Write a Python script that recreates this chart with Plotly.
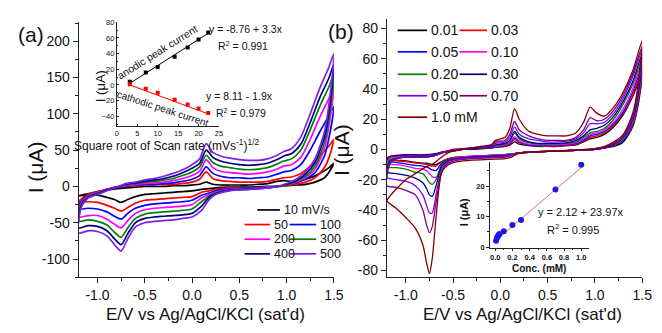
import plotly.graph_objects as go

W, H = 662, 333

# ---------------- Panel (a): CVs at different scan rates ----------------
E_UP_A = [-1.2, -1.17, -1.1, -1.0, -0.9, -0.8, -0.7, -0.6, -0.5, -0.4, -0.3, -0.2, -0.1, 0.0, 0.08,
          0.15, 0.22, 0.3, 0.4, 0.5, 0.6, 0.7, 0.8, 0.9, 0.97, 1.05, 1.15, 1.25, 1.35, 1.45, 1.5]
E_DN_A = [1.45, 1.4, 1.3, 1.2, 1.1, 1.0, 0.9, 0.8, 0.6, 0.4, 0.25, 0.18, 0.1, 0.0, -0.1, -0.2,
          -0.3, -0.4, -0.5, -0.6, -0.68, -0.75, -0.82, -0.9, -1.0, -1.1, -1.2]

A10_UP = [-13, -12, -10, -7, -5, -3, -2, -1, 0, 0, 0, 1, 1, 2, 3, 6, 3, 2, 2, 2, 2, 3, 4, 7, 8, 7, 8, 12, 18, 26, 32]
A10_DN = [20, 12, 6, 3, 2, 1, 0, 0, -1, -1, -2, -3, -4, -6, -7, -8, -9, -10, -11, -14, -18, -22, -18, -15, -12, -12, -13]
A50_UP = [-22, -17, -11, -7, -4, -1, 0, 1, 2, 2, 3, 3, 4, 6, 10, 20, 11, 8, 7, 6, 6, 6, 7, 10, 12, 13, 18, 28, 42, 56, 65]
A50_DN = [40, 26, 12, 6, 3, 1, 0, -1, -2, -2, -4, -6, -8, -14, -15, -16, -17, -18, -19, -23, -29, -34, -30, -26, -22, -21, -22]
A100_UP = [-31, -20, -12, -8, -4, -1, 0, 2, 3, 3, 4, 5, 7, 10, 15, 27, 18, 14, 12, 12, 11, 12, 13, 17, 20, 22, 30, 50, 75, 98, 110]
A100_DN = [68, 42, 19, 10, 5, 2, 0, -1, -2, -3, -6, -9, -12, -19, -21, -22, -23, -24, -26, -30, -37, -45, -41, -35, -31, -30, -31]
A200_UP = [-42, -22, -13, -8, -4, -1, 1, 3, 4, 5, 6, 8, 11, 15, 21, 37, 26, 21, 19, 18, 17, 18, 20, 24, 28, 30, 40, 65, 95, 122, 138]
A200_DN = [85, 52, 24, 12, 6, 2, 0, -1, -3, -4, -8, -11, -16, -25, -27, -28, -29, -30, -32, -37, -47, -57, -52, -45, -40, -40, -42]
A300_UP = [-48, -24, -14, -9, -5, -1, 2, 4, 6, 7, 9, 11, 15, 20, 27, 43, 33, 28, 26, 24, 23, 24, 26, 31, 35, 38, 50, 78, 110, 138, 155]
A300_DN = [95, 60, 28, 14, 7, 2, 0, -2, -3, -5, -9, -13, -21, -31, -33, -34, -35, -36, -38, -44, -57, -70, -63, -53, -48, -46, -48]
A400_UP = [-57, -26, -15, -10, -5, -1, 3, 5, 7, 9, 11, 14, 19, 25, 32, 50, 40, 35, 32, 30, 29, 30, 32, 37, 42, 45, 58, 88, 122, 150, 168]
A400_DN = [105, 68, 33, 17, 8, 3, 0, -2, -4, -5, -10, -15, -27, -37, -39, -40, -41, -42, -44, -50, -65, -80, -72, -61, -55, -54, -57]
A500_UP = [-64, -28, -16, -11, -6, -1, 4, 6, 9, 11, 14, 18, 23, 30, 38, 59, 47, 42, 39, 37, 36, 36, 38, 43, 48, 52, 68, 100, 135, 165, 183]
A500_DN = [115, 75, 38, 20, 10, 4, 0, -2, -4, -6, -11, -18, -33, -42, -44, -46, -47, -48, -50, -56, -72, -89, -80, -68, -62, -61, -64]

A_LABELS = ["10 mV/s", "50", "100", "200", "300", "400", "500"]
A_COLORS = ["#000000", "#FF0000", "#0000FF", "#FF00FF", "#008000", "#000080", "#8020F0"]

# inset (a): peak currents vs square root of scan rate
SQRT_RATE = [3.16, 7.07, 10.0, 14.14, 17.32, 20.0, 22.36]
ANODIC_PEAK = [4, 16, 23, 36, 48, 58, 67]
CATHODIC_PEAK = [1, -5, -10, -19, -25, -30, -36]
FIT_A_X = [3.16, 22.36]
ANODIC_FIT = [2, 66]
CATHODIC_FIT = [0, -37]

# ---------------- Panel (b): CVs at different concentrations ----------------
E_UP_B = [-1.2, -1.17, -1.1, -1.0, -0.9, -0.8, -0.7, -0.6, -0.5, -0.4, -0.3, -0.2, -0.1, -0.05, 0.05, 0.1,
          0.15, 0.2, 0.3, 0.4, 0.5, 0.6, 0.7, 0.8, 0.88, 0.95, 1.02, 1.1, 1.2, 1.3, 1.4, 1.5]
E_DN_B = [1.45, 1.4, 1.3, 1.2, 1.1, 1.0, 0.8, 0.6, 0.4, 0.25, 0.18, 0.12, 0.05, -0.1, -0.3, -0.45,
          -0.55, -0.62, -0.68, -0.72, -0.75, -0.78, -0.82, -0.9, -1.0, -1.1, -1.2]

B001_UP = [-6, -4.5, -4, -3.5, -3.5, -3.5, -3, -1.5, -1, 0, 0, 0.5, 1, 1.5, 2, 3, 5, 3.5, 2.5, 2, 2, 2, 2.5, 3, 5, 7, 8, 10, 15, 23, 35, 50]
B001_DN = [27, 15, 5, 2, 1, 0, -0.5, -1, -1.5, -2, -2.5, -3, -3.5, -4, -4.5, -5, -6, -8, -10, -10, -9.5, -9, -9, -8.5, -7.5, -7, -6]
B003_UP = [-7, -5, -4.5, -4, -4, -4, -3.5, -1.5, -1, 0, 0.5, 0.5, 1, 1.5, 2, 3.5, 6.5, 4.5, 3, 2.5, 2, 2, 2.5, 3.5, 5.5, 8, 9, 11, 16, 24, 36, 52]
B003_DN = [28, 16, 6, 2.5, 1, 0, -0.5, -1, -1.5, -2, -2.5, -3, -3.5, -4, -4.5, -5, -6, -8, -11, -11, -10.5, -10, -9.5, -9, -8, -7.5, -7]
B005_UP = [-8, -5.5, -4.5, -4, -4, -4, -3.5, -1.5, -1, 0, 0.5, 1, 1, 1.5, 2.5, 4, 7.5, 5, 3, 2.5, 2.5, 2.5, 3, 4, 6, 9, 10, 12, 17, 25, 38, 55]
B005_DN = [29, 17, 6, 2.5, 1, 0, -0.5, -1, -1.5, -2, -2.5, -3, -3.5, -4, -4.5, -5.5, -6.5, -9, -14, -13.5, -12.5, -11.5, -11, -10.5, -9.5, -8.5, -8]
B010_UP = [-9.6, -6, -5, -4.5, -4.5, -4.5, -4, -2, -1, 0, 0.5, 1, 1.5, 2, 3, 4.5, 8.5, 5.5, 3.5, 3, 3, 3, 3.5, 4.5, 7, 10, 11, 13, 18, 27, 40, 58]
B010_DN = [31, 18, 7, 3, 1, 0, -0.5, -1, -1.5, -2, -2.5, -3, -3.5, -4, -4.5, -5.5, -7, -11, -18.5, -18, -16, -14, -13, -12.5, -11, -10, -9.6]
B020_UP = [-11.5, -7, -5.5, -5, -5, -5, -4, -2, -1, 0, 0.5, 1, 1.5, 2.5, 3.5, 5.5, 11, 7, 4.5, 3.5, 3.5, 3.5, 4, 5, 8, 11, 12, 14, 20, 30, 43, 60]
B020_DN = [32, 19, 7, 3, 1, 0, -0.5, -1, -1.5, -2, -2.5, -3, -4, -4.5, -5, -6, -7, -10, -20, -23, -22, -19, -16, -15, -13, -12, -11.5]
B030_UP = [-15, -8, -6, -5, -5, -5, -4, -2, -0.5, 0, 0.5, 1, 1.5, 3, 4, 6, 12, 8, 5, 4, 4, 4, 4.5, 6, 9, 13, 14, 16, 22, 32, 45, 63]
B030_DN = [34, 20, 8, 3.5, 1, 0, -0.5, -1, -1.5, -2, -2.5, -3.5, -4, -4.5, -5, -6, -7.5, -11, -24, -31, -30, -26, -22, -19, -17, -16, -15]
B050_UP = [-18.5, -9, -6, -5, -5, -5, -4, -2, 0, 0.5, 1, 1.5, 2, 4, 5, 8, 15, 10, 7, 6, 5, 5, 5.5, 7, 11, 17, 17, 18, 24, 34, 48, 66]
B050_DN = [36, 21, 8, 4, 1.5, 0.5, -0.5, -1, -1.5, -2, -2.5, -3.5, -4.5, -5, -5.5, -6.5, -8, -13, -30, -42, -42, -37, -30, -24, -21, -20, -18.5]
B070_UP = [-24, -10, -6, -5, -5, -5, -4, -2, 0, 0.5, 1, 2, 2.5, 5, 6, 10, 18.5, 13, 9, 7, 6, 6, 6, 8, 13, 21, 19, 20, 26, 36, 50, 68]
B070_DN = [38, 22, 9, 4, 1.5, 0.5, -0.5, -1, -1.5, -2, -2.5, -4, -5, -5.5, -6, -7, -9, -15, -35, -51, -55, -50, -40, -30, -27, -25, -24]
B100_UP = [-34, -31, -26, -20, -16, -12, -9, -4, -1, 0, 1, 2, 3, 6, 8, 14, 27, 20, 12, 10, 9, 9, 9, 11, 18, 28, 24, 22, 28, 38, 52, 72]
B100_DN = [40, 24, 10, 5, 2, 0.5, -0.5, -1, -1.5, -2, -3, -5, -6, -6.5, -7, -8, -10, -15, -45, -72, -82, -75, -63, -52, -45, -39, -34]

B_LABELS = ["0.01", "0.03", "0.05", "0.10", "0.20", "0.30", "0.50", "0.70", "1.0 mM"]
B_COLORS = ["#000000", "#FF0000", "#0000FF", "#FF00FF", "#008000", "#000080", "#8000FF", "#800080", "#800000"]

# inset (b): peak current vs concentration
CONC = [0.01, 0.02, 0.03, 0.04, 0.05, 0.10, 0.20, 0.30, 0.70, 1.0]
PEAK_B = [2.1, 3.0, 3.5, 4.0, 4.3, 5.2, 7.3, 8.9, 18.9, 27.0]
FIT_B_X = [0.0, 1.0]
FIT_B_Y = [2.1, 26.1]

# ---------------- helpers ----------------
FONT = "Liberation Sans, Arial, sans-serif"


def P(x):
    return x / W


def Q(y):
    return 1 - y / H


fig = go.Figure()

A_UPS = [A10_UP, A50_UP, A100_UP, A200_UP, A300_UP, A400_UP, A500_UP]
A_DNS = [A10_DN, A50_DN, A100_DN, A200_DN, A300_DN, A400_DN, A500_DN]
for up, dn, col, lab in zip(A_UPS, A_DNS, A_COLORS, A_LABELS):
    fig.add_trace(go.Scatter(x=E_UP_A + E_DN_A, y=up + dn, mode="lines", name=lab,
                             line=dict(color=col, width=1.7, shape="spline", smoothing=0.7),
                             xaxis="x", yaxis="y", showlegend=False))

B_UPS = [B001_UP, B003_UP, B005_UP, B010_UP, B020_UP, B030_UP, B050_UP, B070_UP, B100_UP]
B_DNS = [B001_DN, B003_DN, B005_DN, B010_DN, B020_DN, B030_DN, B050_DN, B070_DN, B100_DN]
for up, dn, col, lab in zip(B_UPS, B_DNS, B_COLORS, B_LABELS):
    fig.add_trace(go.Scatter(x=E_UP_B + E_DN_B, y=up + dn, mode="lines", name=lab,
                             line=dict(color=col, width=1.3, shape="spline", smoothing=0.7),
                             xaxis="x2", yaxis="y2", showlegend=False))

# inset (a)
fig.add_trace(go.Scatter(x=FIT_A_X, y=ANODIC_FIT, mode="lines", line=dict(color="#000000", width=1),
                         xaxis="x3", yaxis="y3", showlegend=False))
fig.add_trace(go.Scatter(x=SQRT_RATE, y=ANODIC_PEAK, mode="markers",
                         marker=dict(symbol="square", size=4, color="#000000"),
                         xaxis="x3", yaxis="y3", showlegend=False))
fig.add_trace(go.Scatter(x=FIT_A_X, y=CATHODIC_FIT, mode="lines", line=dict(color="#FF0000", width=1),
                         xaxis="x3", yaxis="y3", showlegend=False))
fig.add_trace(go.Scatter(x=SQRT_RATE, y=CATHODIC_PEAK, mode="markers",
                         marker=dict(symbol="square", size=4, color="#FF0000"),
                         xaxis="x3", yaxis="y3", showlegend=False))

# inset (b)
fig.add_trace(go.Scatter(x=FIT_B_X, y=FIT_B_Y, mode="lines", line=dict(color="#E07060", width=1),
                         xaxis="x4", yaxis="y4", showlegend=False))
fig.add_trace(go.Scatter(x=CONC, y=PEAK_B, mode="markers",
                         marker=dict(symbol="circle", size=6, color="#1A1AE6"),
                         xaxis="x4", yaxis="y4", showlegend=False))

AX = dict(showgrid=False, zeroline=False, showline=True, linecolor="#222", linewidth=1,
          ticks="outside", tickcolor="#222", tickwidth=1)

X_TICKS = [-1.0, -0.5, 0.0, 0.5, 1.0, 1.5]
X_TICKTEXT = ["-1.0", "-0.5", "0.0", "0.5", "1.0", "1.5"]
X_MINOR = [-0.75, -0.25, 0.25, 0.75, 1.25]
YA_TICKS = [-100, -50, 0, 50, 100, 150, 200]
YA_MINOR = [-125, -75, -25, 25, 75, 125, 175, 225]
YB_TICKS = [-80, -60, -40, -20, 0, 20, 40, 60, 80]
YB_MINOR = [-70, -50, -30, -10, 10, 30, 50, 70]

tickfont_main = dict(family=FONT, size=14, color="#111")
tickfont_ia = dict(family=FONT, size=7.5, color="#111")
tickfont_ib = dict(family=FONT, size=7.5, color="#111", weight="bold")

fig.update_layout(
    width=W, height=H, margin=dict(l=0, r=0, t=0, b=0),
    paper_bgcolor="white", plot_bgcolor="rgba(0,0,0,0)",
    xaxis=dict(AX, domain=[P(78), P(338)], range=[-1.2, 1.5], anchor="y",
               tickmode="array", tickvals=X_TICKS, ticktext=X_TICKTEXT, ticklen=5,
               tickfont=tickfont_main,
               minor=dict(tickmode="array", tickvals=X_MINOR, ticks="outside", ticklen=3, tickcolor="#222")),
    yaxis=dict(AX, domain=[Q(280), Q(18)], range=[-125, 227], anchor="x",
               tickmode="array", tickvals=YA_TICKS, ticktext=[str(v) for v in YA_TICKS], ticklen=5,
               tickfont=tickfont_main,
               minor=dict(tickmode="array", tickvals=YA_MINOR, ticks="outside", ticklen=3, tickcolor="#222")),
    xaxis2=dict(AX, domain=[P(392), P(652)], range=[-1.2, 1.5], anchor="y2",
                tickmode="array", tickvals=X_TICKS, ticktext=X_TICKTEXT, ticklen=5,
                tickfont=tickfont_main,
                minor=dict(tickmode="array", tickvals=X_MINOR, ticks="outside", ticklen=3, tickcolor="#222")),
    yaxis2=dict(AX, domain=[Q(280), Q(15)], range=[-84.5, 86.5], anchor="x2",
                tickmode="array", tickvals=YB_TICKS, ticktext=[str(v) for v in YB_TICKS], ticklen=5,
                tickfont=tickfont_main,
                minor=dict(tickmode="array", tickvals=YB_MINOR, ticks="outside", ticklen=3, tickcolor="#222")),
    xaxis3=dict(AX, domain=[P(117), P(221)], range=[0, 25], anchor="y3",
                tickmode="array", tickvals=[0, 5, 10, 15, 20, 25], ticks="inside", ticklen=2,
                tickfont=tickfont_ia),
    yaxis3=dict(AX, domain=[Q(125), Q(18)], range=[-52.5, 81], anchor="x3",
                tickmode="array", tickvals=[-40, -20, 0, 20, 40, 60, 80], ticks="inside", ticklen=2,
                tickfont=tickfont_ia,
                minor=dict(tickmode="array", tickvals=[-50, -30, -10, 10, 30, 50, 70], ticks="inside",
                           ticklen=1.5, tickcolor="#222")),
    xaxis4=dict(AX, domain=[P(496.7), P(598.3)], range=[-0.064, 1.095], anchor="y4",
                tickmode="array", tickvals=[0, 0.2, 0.4, 0.6, 0.8, 1.0],
                ticktext=["0.0", "0.2", "0.4", "0.6", "0.8", "1.0"], ticklen=2.5,
                tickfont=tickfont_ib,
                minor=dict(tickmode="array", tickvals=[0.1, 0.3, 0.5, 0.7, 0.9], ticks="outside",
                           ticklen=1.5, tickcolor="#222")),
    yaxis4=dict(AX, domain=[Q(249.5), Q(161.7)], range=[-0.1, 28], anchor="x4",
                tickmode="array", tickvals=[0, 10, 20], ticklen=2.5,
                tickfont=tickfont_ib,
                minor=dict(tickmode="array", tickvals=[5, 15, 25], ticks="outside", ticklen=1.5, tickcolor="#222")),
)

ann = []
shapes = []


def text(x, y, s, size, angle=0, xanchor="center", bold=False, color="#111"):
    ann.append(dict(x=P(x), y=Q(y), xref="paper", yref="paper", text=s, showarrow=False,
                    textangle=angle, xanchor=xanchor, yanchor="middle",
                    font=dict(family=FONT, size=size, color=color, weight="bold" if bold else "normal")))


# panel labels and axis titles
text(30, 31, "(a)", 21)
text(345, 28, "(b)", 21)
text(207, 318, "E/V vs Ag/AgCl/KCl (sat'd)", 17)
text(530, 318, "E/V vs Ag/AgCl/KCl (sat'd)", 17)
text(35, 167, "I (μA)", 21, angle=-90)
text(346, 150, "I (μA)", 21, angle=-90)

# inset (a) texts
text(168, 144, "Square root of Scan rate (mVs<sup>-1</sup>)<sup>1/2</sup>", 12)
text(101, 84, "I (μA)", 13, angle=-90)
text(158, 49, "anodic peak current", 10.5, angle=-32)
text(164, 107, "cathodic peak current", 10, angle=18)
text(248, 26, "y = -8.76 + 3.3x", 10.5)
text(245, 43, "R<sup>2</sup> = 0.991", 10.5)
text(242, 94, "y = 8.11 - 1.9x", 10.5)
text(243, 111, "R<sup>2</sup> = 0.979", 10.5)

# inset (b) texts
text(547, 271, "Conc. (mM)", 10, bold=True)
text(470, 213, "I (μA)", 11, angle=-90, bold=True)
text(590, 213, "y = 2.12 + 23.97x", 11)
text(553, 231, "R<sup>2</sup> = 0.995", 11, xanchor="left")

# legend (a)
LEG_A_POS = [(260, 283, 211), (247, 273, 226), (293, 320, 226), (247, 273, 241), (293, 320, 241),
             (247, 273, 256), (293, 320, 256)]
for (x0, x1, yy), col, lab in zip(LEG_A_POS, A_COLORS, A_LABELS):
    shapes.append(dict(type="line", xref="paper", yref="paper", x0=P(x0), x1=P(x1), y0=Q(yy), y1=Q(yy),
                       line=dict(color=col, width=1.7)))
    text(x1 + 2, yy, lab, 12.5, xanchor="left")

# legend (b)
LEG_B_POS = [(403, 433, 27), (466, 494, 27), (403, 433, 49), (466, 494, 49), (403, 433, 72),
             (466, 494, 72), (403, 433, 94), (466, 494, 94), (403, 433, 116)]
for (x0, x1, yy), col, lab in zip(LEG_B_POS, B_COLORS, B_LABELS):
    shapes.append(dict(type="line", xref="paper", yref="paper", x0=P(x0), x1=P(x1), y0=Q(yy), y1=Q(yy),
                       line=dict(color=col, width=1.7)))
    text(x1 + 2, yy, lab, 14, xanchor="left")

fig.update_layout(annotations=ann, shapes=shapes)
fig.write_html("out.html", config={"displayModeBar": False},
               post_script="document.body.style.margin='0px';document.body.style.overflow='hidden';")
